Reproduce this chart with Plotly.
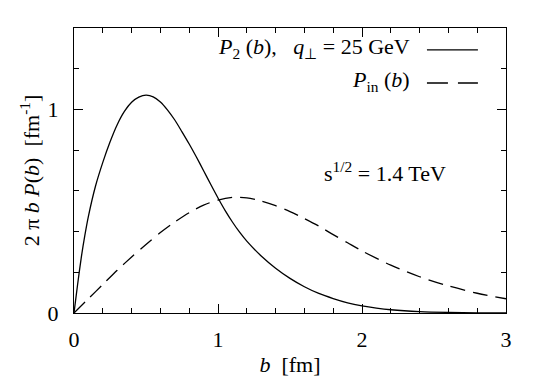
import plotly.graph_objects as go

# impact parameter b [fm] and 2 pi b P(b) [fm^-1]
b_p2 = [0.0, 0.025, 0.05, 0.075, 0.1, 0.15, 0.2, 0.25, 0.3, 0.35, 0.4, 0.45, 0.5, 0.55,
        0.6, 0.65, 0.7, 0.75, 0.8, 0.85, 0.9, 0.95, 1.0, 1.05, 1.1, 1.15, 1.2, 1.3, 1.4,
        1.5, 1.6, 1.7, 1.8, 1.9, 2.0, 2.1, 2.2, 2.4, 2.6, 2.8, 3.0]
p2_vals = [0.0, 0.14, 0.27, 0.38, 0.475, 0.625, 0.74, 0.84, 0.925, 0.99, 1.035, 1.06,
           1.07, 1.062, 1.037, 0.997, 0.948, 0.89, 0.83, 0.766, 0.699, 0.631, 0.565,
           0.503, 0.447, 0.397, 0.353, 0.28, 0.22, 0.17, 0.129, 0.096, 0.071, 0.05,
           0.035, 0.024, 0.016, 0.007, 0.003, 0.001, 0.0]

b_in = [0.0, 0.1, 0.2, 0.3, 0.4, 0.5, 0.6, 0.7, 0.8, 0.9, 1.0, 1.1, 1.2, 1.3, 1.4,
        1.5, 1.6, 1.7, 1.8, 1.9, 2.0, 2.2, 2.4, 2.6, 2.8, 3.0]
pin_vals = [0.0, 0.07, 0.14, 0.21, 0.275, 0.337, 0.395, 0.447, 0.493, 0.53, 0.555, 0.568,
            0.566, 0.55, 0.527, 0.498, 0.464, 0.427, 0.385, 0.345, 0.305, 0.235, 0.178,
            0.133, 0.097, 0.07]

FONT = "Liberation Serif, Times New Roman, serif"
FS = 22
TXT = dict(family=FONT, size=FS, color="black")

fig = go.Figure()
fig.add_trace(go.Scatter(x=b_p2, y=p2_vals, mode="lines", line_shape="spline",
                         line=dict(color="black", width=1.3, smoothing=0.8)))
fig.add_trace(go.Scatter(x=b_in, y=pin_vals, mode="lines", line_shape="spline",
                         line=dict(color="black", width=1.3, smoothing=0.8, dash="15px,8px")))

axis_common = dict(
    showline=True, linecolor="black", linewidth=1.2, mirror="ticks",
    ticks="inside", ticklen=9, tickwidth=1, tickcolor="black",
    showgrid=False, zeroline=False, automargin=False,
    tickfont=TXT,
    minor=dict(ticks="inside", ticklen=5, tickwidth=1, tickcolor="black", showgrid=False),
)

fig.update_xaxes(range=[0, 3], tickvals=[0, 1, 2, 3], minor_dtick=0.2, ticklabelstandoff=6,
                 title=dict(text="<i>b</i>\u00a0\u00a0[fm]", font=TXT, standoff=6),
                 **axis_common)
fig.update_yaxes(range=[0, 1.4], tickvals=[0, 1], minor_dtick=0.2, ticklabelstandoff=10,
                 title=dict(text="2 \u03c0 <i>b P</i>(<i>b</i>)\u00a0\u00a0[fm<sup>-1</sup>]",
                            font=TXT, standoff=1),
                 **axis_common)

# legend entries drawn by hand
fig.add_annotation(xref="paper", yref="paper", x=0.782, y=0.93, xanchor="right", yanchor="middle",
                   text="<i>P</i><sub>2</sub> (<i>b</i>),\u00a0\u00a0 <i>q</i><sub>\u22a5</sub> = 25 GeV",
                   showarrow=False, font=TXT)
fig.add_annotation(xref="paper", yref="paper", x=0.782, y=0.815, xanchor="right", yanchor="middle",
                   text="<i>P</i><sub>in</sub> (<i>b</i>)",
                   showarrow=False, font=TXT)
fig.add_annotation(xref="paper", yref="paper", x=0.72, y=0.495, xanchor="center", yanchor="middle",
                   text="s<sup>1/2</sup> = 1.4 TeV",
                   showarrow=False, font=TXT)
fig.add_shape(type="line", xref="paper", yref="paper", x0=0.817, x1=0.935, y0=0.923, y1=0.923,
              line=dict(color="black", width=1.3))
fig.add_shape(type="line", xref="paper", yref="paper", x0=0.817, x1=0.935, y0=0.807, y1=0.807,
              line=dict(color="black", width=1.3, dash="21px,10px"))

fig.update_layout(
    width=545, height=382,
    margin=dict(l=74, r=39, t=28, b=69),
    paper_bgcolor="white", plot_bgcolor="white",
    showlegend=False,
    font=dict(family=FONT, color="black"),
)

# drop the default page margin so the figure sits at the window's corner
fig.write_html("out.html", config={"displayModeBar": False},
               post_script="document.body.style.margin = '0px';")
